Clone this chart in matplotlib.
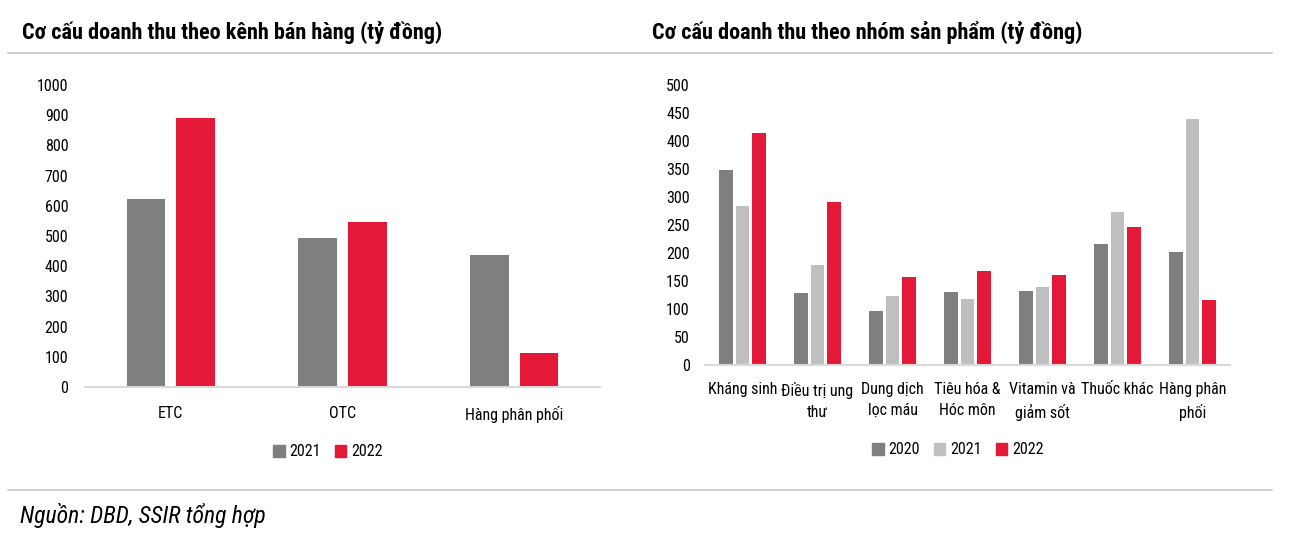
import matplotlib
matplotlib.use("Agg")
import matplotlib.pyplot as plt
import numpy as np
from matplotlib import font_manager as fm
from matplotlib.patches import Patch

names = {f.name for f in fm.fontManager.ttflist}
cands = ['Liberation Sans Narrow', 'Arial Narrow', 'Roboto Condensed', 'Archivo Narrow',
         'PT Sans Narrow', 'Fira Sans Condensed', 'IBM Plex Sans Condensed', 'Liberation Sans']
FONT = next(c for c in cands if c in names)
plt.rcParams['font.family'] = [FONT, 'DejaVu Sans']

# ---- data ----
channels = ['ETC', 'OTC', 'Hàng phân phối']
ch_2021 = [621, 495, 437]
ch_2022 = [890, 546, 114]

products = ['Kháng sinh', 'Điều trị ung\nthư', 'Dung dịch\nlọc máu', 'Tiêu hóa &\nHóc môn',
            'Vitamin và\ngiảm sốt', 'Thuốc khác', 'Hàng phân\nphối']
pr_2020 = [348, 129, 96, 130, 133, 216, 202]
pr_2021 = [284, 179, 123, 117, 139, 273, 439]
pr_2022 = [415, 291, 157, 167, 160, 246, 116]

left_ticks = [0, 100, 200, 300, 400, 500, 600, 700, 800, 900, 1000]
right_ticks = [0, 50, 100, 150, 200, 250, 300, 350, 400, 450, 500]

DARK = '#7f7f7f'
LIGHT = '#bfbfbf'
RED = '#e31937'
AXC = '#d9d9d9'

W, H = 1294, 549
fig = plt.figure(figsize=(W / 100, H / 100), dpi=100)

def fx(px):
    return px / W

def fy(py):
    return 1 - py / H

TS = 11.5

def style(ax):
    for s in ['top', 'right', 'left']:
        ax.spines[s].set_visible(False)
    ax.spines['bottom'].set_color(AXC)
    ax.spines['bottom'].set_linewidth(1.5)
    ax.tick_params(axis='both', length=0, labelsize=TS, colors='#000000')

# left chart
ax1 = fig.add_axes([fx(85), fy(387), fx(600) - fx(85), fy(85) - fy(387)])
x = np.arange(len(channels))
bw = 0.226
ax1.bar(x - 0.145, ch_2021, bw, color=DARK)
ax1.bar(x + 0.145, ch_2022, bw, color=RED)
ax1.set_xlim(-0.5, len(channels) - 0.5)
ax1.set_ylim(0, 1000)
ax1.set_yticks(left_ticks)
ax1.set_xticks(x)
ax1.set_xticklabels(channels)
ax1.tick_params(axis='x', pad=14)
ax1.tick_params(axis='y', pad=12)
style(ax1)
fig.legend(handles=[Patch(color=DARK, label='2021'), Patch(color=RED, label='2022')],
           loc='center', bbox_to_anchor=(fx(328), fy(452)), ncol=2, frameon=False,
           fontsize=TS, handlelength=0.7, handleheight=0.7, handletextpad=0.3, columnspacing=0.9)

# right chart
ax2 = fig.add_axes([fx(705), fy(365), fx(1230) - fx(705), fy(85) - fy(365)])
x2 = np.arange(len(products))
bw2 = 0.175
step = 0.22
ax2.bar(x2 - step, pr_2020, bw2, color=DARK)
ax2.bar(x2, pr_2021, bw2, color=LIGHT)
ax2.bar(x2 + step, pr_2022, bw2, color=RED)
ax2.set_xlim(-0.5, len(products) - 0.5)
ax2.set_ylim(0, 500)
ax2.set_yticks(right_ticks)
ax2.set_xticks(x2)
ax2.set_xticklabels(products, linespacing=1.5, va='top')
ax2.tick_params(axis='x', pad=12)
ax2.tick_params(axis='y', pad=11)
style(ax2)
fig.legend(handles=[Patch(color=DARK, label='2020'), Patch(color=LIGHT, label='2021'),
                    Patch(color=RED, label='2022')],
           loc='center', bbox_to_anchor=(fx(958), fy(450)), ncol=3, frameon=False,
           fontsize=TS, handlelength=0.7, handleheight=0.7, handletextpad=0.3, columnspacing=0.9)

# titles and rules
fig.text(fx(22), fy(33), 'Cơ cấu doanh thu theo kênh bán hàng (tỷ đồng)', fontsize=16,
         fontweight='bold', va='center', ha='left')
fig.text(fx(652), fy(33), 'Cơ cấu doanh thu theo nhóm sản phẩm (tỷ đồng)', fontsize=16,
         fontweight='bold', va='center', ha='left')
fig.add_artist(plt.Line2D([fx(8), fx(1272)], [fy(53), fy(53)], color='#c8c8c8', lw=1.2))
fig.add_artist(plt.Line2D([fx(8), fx(1272)], [fy(490), fy(490)], color='#c8c8c8', lw=1.2))
fig.text(fx(20), fy(515), 'Nguồn: DBD, SSIR tổng hợp', fontsize=17, style='italic',
         va='center', ha='left')

fig.savefig('out.png', dpi=100)
